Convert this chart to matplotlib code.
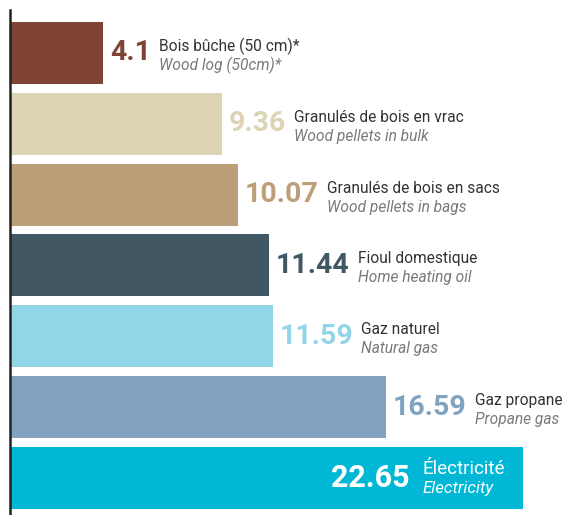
import matplotlib
matplotlib.use("Agg")
import matplotlib.pyplot as plt

values = [4.1, 9.36, 10.07, 11.44, 11.59, 16.59, 22.65]
value_text = ["4.1", "9.36", "10.07", "11.44", "11.59", "16.59", "22.65"]
labels_fr = ["Bois bûche (50 cm)*", "Granulés de bois en vrac", "Granulés de bois en sacs",
             "Fioul domestique", "Gaz naturel", "Gaz propane", "Électricité"]
labels_en = ["Wood log (50cm)*", "Wood pellets in bulk", "Wood pellets in bags",
             "Home heating oil", "Natural gas", "Propane gas", "Electricity"]
colors = ["#7F4433", "#DDD3B5", "#BC9F78", "#415764", "#92D5E8", "#82A3BF", "#00B8D6"]

W, H = 573, 515
fig = plt.figure(figsize=(W / 100, H / 100), dpi=100)
ax = fig.add_axes([10 / W, 0, 1 - 10 / W, 505 / H])

ypos = list(range(len(values)))
ax.barh(ypos, values, height=0.875, color=colors, left=0)
ax.set_xlim(0, 563 / 22.65)
ax.set_ylim(6.525, -0.607)
for s in ["top", "right", "bottom"]:
    ax.spines[s].set_visible(False)
ax.spines["left"].set_color("#222222")
ax.spines["left"].set_linewidth(1.8)
ax.set_xticks([])
ax.set_yticks([])

FONT = "Roboto"
VAL_SIZE = 20.5
LAB_SIZE = 11.2
L1, L2 = 2, -17

fig.canvas.draw()
renderer = fig.canvas.get_renderer()

def width_px(t):
    return t.get_window_extent(renderer).width

for i, (v, vs, fr, en, c) in enumerate(zip(values, value_text, labels_fr, labels_en, colors)):
    inside = (i == len(values) - 1)
    if not inside:
        vt = ax.annotate(vs, xy=(v, i), xytext=(7, 0),
                         textcoords="offset pixels", ha="left", va="center",
                         fontsize=VAL_SIZE, fontweight="bold", color=c, family=FONT)
        vw = width_px(vt)
        lx = 7 + vw + 8
        ax.annotate(fr, xy=(v, i), xytext=(lx, L1), textcoords="offset pixels",
                    ha="left", va="baseline", fontsize=LAB_SIZE, color="#333333", family=FONT)
        ax.annotate(en, xy=(v, i), xytext=(lx, L2), textcoords="offset pixels",
                    ha="left", va="baseline", fontsize=LAB_SIZE, color="#7a7a7a",
                    style="italic", family=FONT)
    else:
        E1, E2 = 4, -15
        t1 = ax.annotate(fr, xy=(v, i), xytext=(-18, E1), textcoords="offset pixels",
                         ha="left", va="baseline", fontsize=13.6, color="white", family=FONT)
        t2 = ax.annotate(en, xy=(v, i), xytext=(-18, E2), textcoords="offset pixels",
                         ha="left", va="baseline", fontsize=12.2, color="white",
                         style="italic", family=FONT)
        lw = max(width_px(t1), width_px(t2))
        t1.xyann = (-18 - lw, E1)
        t2.xyann = (-18 - lw, E2)
        ax.annotate(vs, xy=(v, i), xytext=(-18 - lw - 13, 0), textcoords="offset pixels",
                    ha="right", va="center", fontsize=VAL_SIZE + 1.5, fontweight="bold",
                    color="white", family=FONT)

fig.savefig("out.png", dpi=100)
